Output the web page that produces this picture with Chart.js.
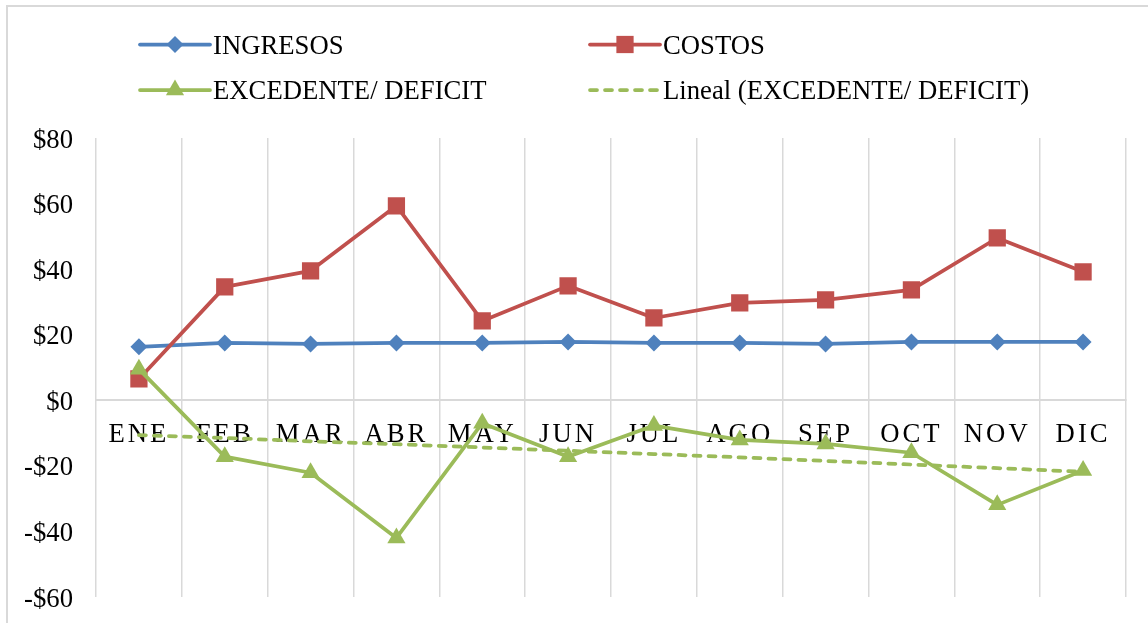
<!DOCTYPE html>
<html>
<head>
<meta charset="utf-8">
<script src="https://cdn.jsdelivr.net/npm/chart.js@4.4.1/dist/chart.umd.min.js"></script>
<style>
html,body{margin:0;padding:0;background:#fff;overflow:hidden;width:1148px;height:623px;}
#frame{position:absolute;left:6px;top:5px;width:1300px;height:800px;border:2px solid #d9d9d9;box-sizing:border-box;}
#wrap{position:absolute;left:0;top:0;width:1148px;height:623px;}
</style>
</head>
<body>
<div id="frame"></div>
<div id="wrap"><canvas id="c"></canvas></div>
<script>
const categories = ['ENE','FEB','MAR','ABR','MAY','JUN','JUL','AGO','SEP','OCT','NOV','DIC'];
const ingresos  = [16.3, 17.5, 17.2, 17.5, 17.5, 17.8, 17.5, 17.5, 17.2, 17.8, 17.8, 17.8];
const costos    = [6.5, 34.6, 39.5, 59.3, 24.2, 34.9, 25.1, 29.7, 30.6, 33.7, 49.5, 39.2];
const excedente = [9.5, -17.2, -22.1, -42.0, -7.0, -17.2, -7.7, -12.1, -13.3, -16.0, -31.9, -21.4];
const tendencia = [-10.6, -11.5, -12.5, -13.4, -14.4, -15.4, -16.4, -17.4, -18.5, -19.6, -20.7, -21.8];
const yTicks = [-60, -40, -20, 0, 20, 40, 60, 80];
const seriesNames = ['INGRESOS', 'COSTOS', 'EXCEDENTE/ DEFICIT', 'Lineal (EXCEDENTE/ DEFICIT)'];

const FONT_FAMILY = "'Liberation Serif','Times New Roman',serif";
const FONT_SIZE = 26.7;
Chart.defaults.font.family = FONT_FAMILY;
Chart.defaults.font.size = FONT_SIZE;
Chart.defaults.color = '#000';

const BLUE = '#4F81BD', RED = '#C0504D', GREEN = '#9BBB59', GRID = '#d9d9d9';
const LINE_W = 3.75;

function fallbackPoint(ctx, style, r, x, y) {
  ctx.beginPath();
  if (style === 'rectRot') { ctx.moveTo(x, y - r); ctx.lineTo(x + r, y); ctx.lineTo(x, y + r); ctx.lineTo(x - r, y); }
  else if (style === 'rect') { const s = r * Math.SQRT1_2; ctx.rect(x - s, y - s, 2 * s, 2 * s); }
  else if (style === 'triangle') { for (let k = 0; k < 3; k++) { const a = k * 2 * Math.PI / 3; const px = x + Math.sin(a) * r, py = y - Math.cos(a) * r; k ? ctx.lineTo(px, py) : ctx.moveTo(px, py); } }
  ctx.closePath();
  ctx.fill();
}

const excelLegend = {
  id: 'excelLegend',
  afterDraw(chart, args, opts) {
    const ctx = chart.ctx;
    chart.data.datasets.forEach((ds, i) => {
      const pos = opts.items[i];
      ctx.save();
      ctx.strokeStyle = ds.borderColor;
      ctx.lineWidth = ds.borderWidth;
      ctx.lineCap = 'round';
      ctx.setLineDash(ds.borderDash || []);
      ctx.beginPath();
      ctx.moveTo(pos.x, pos.y);
      ctx.lineTo(pos.x + opts.lineLength, pos.y);
      ctx.stroke();
      ctx.setLineDash([]);
      if (ds.pointRadius > 0) {
        ctx.fillStyle = ds.pointBackgroundColor;
        fallbackPoint(ctx, ds.pointStyle, ds.pointRadius, pos.x + opts.lineLength / 2, pos.y);
      }
      ctx.fillStyle = '#000';
      ctx.font = FONT_SIZE + 'px ' + FONT_FAMILY;
      ctx.textBaseline = 'alphabetic';
      ctx.textAlign = 'left';
      ctx.fillText(ds.label, pos.x + opts.lineLength + opts.gap, pos.y + opts.baselineOffset);
      ctx.restore();
    });
  }
};

const xLetterSpacing = {
  id: 'xLetterSpacing',
  beforeDraw(chart, args, opts) {
    const s = chart.scales.x;
    if (s && !s.__ls) {
      const orig = s.drawLabels.bind(s);
      s.drawLabels = function (ca) {
        const ctx = this.ctx;
        ctx.save();
        if ('letterSpacing' in ctx) ctx.letterSpacing = opts.spacing;
        orig(ca);
        ctx.restore();
      };
      s.__ls = true;
    }
  }
};

new Chart(document.getElementById('c'), {
  type: 'line',
  data: {
    labels: categories,
    datasets: [
      { label: seriesNames[0], data: ingresos, borderColor: BLUE, backgroundColor: BLUE, pointBackgroundColor: BLUE,
        borderWidth: LINE_W, pointStyle: 'rectRot', pointRadius: 8.5, pointBorderWidth: 0, borderJoinStyle: 'round', order: 3 },
      { label: seriesNames[1], data: costos, borderColor: RED, backgroundColor: RED, pointBackgroundColor: RED,
        borderWidth: LINE_W, pointStyle: 'rect', pointRadius: 12.2, pointBorderWidth: 0, borderJoinStyle: 'round', order: 2 },
      { label: seriesNames[2], data: excedente, borderColor: GREEN, backgroundColor: GREEN, pointBackgroundColor: GREEN,
        borderWidth: LINE_W, pointStyle: 'triangle', pointRadius: 10.5, pointBorderWidth: 0, borderJoinStyle: 'round', order: 1 },
      { label: seriesNames[3], data: tendencia, borderColor: GREEN, backgroundColor: GREEN, pointBackgroundColor: GREEN,
        borderWidth: LINE_W, borderDash: [7, 8], borderCapStyle: 'round', pointRadius: 0, order: 4 }
    ]
  },
  options: {
    responsive: true,
    maintainAspectRatio: false,
    animation: false,
    events: [],
    layout: { padding: { left: 0, right: 22, top: 138, bottom: 26 } },
    scales: {
      x: {
        position: { y: 0 },
        offset: true,
        grid: { display: true, offset: true, color: GRID, lineWidth: 1.5, drawTicks: false },
        border: { display: true, color: GRID, width: 2 },
        afterFit(scale) { scale.height = 0; },
        ticks: { autoSkip: false, maxRotation: 0, minRotation: 0, padding: 19, color: '#000',
                 font: { family: FONT_FAMILY, size: FONT_SIZE } }
      },
      y: {
        min: yTicks[0],
        max: yTicks[yTicks.length - 1],
        grid: { display: false, drawTicks: false },
        border: { display: false },
        afterFit(scale) { scale.width = 96; scale.paddingTop = 0; scale.paddingBottom = 0; },
        afterBuildTicks(scale) { scale.ticks = yTicks.map(v => ({ value: v })); },
        ticks: { stepSize: 20, padding: 23, labelOffset: 2.5, color: '#000', font: { family: FONT_FAMILY, size: FONT_SIZE },
                 callback: v => (v < 0 ? '-$' : '$') + Math.abs(v) }
      }
    },
    plugins: {
      legend: { display: false },
      tooltip: { enabled: false },
      excelLegend: {
        lineLength: 70, gap: 3, baselineOffset: 9,
        items: [ { x: 140, y: 44.5 }, { x: 590, y: 44.5 }, { x: 140, y: 90 }, { x: 590, y: 90 } ]
      },
      xLetterSpacing: { spacing: '3px' }
    }
  },
  plugins: [excelLegend, xLetterSpacing]
});
</script>
</body>
</html>
